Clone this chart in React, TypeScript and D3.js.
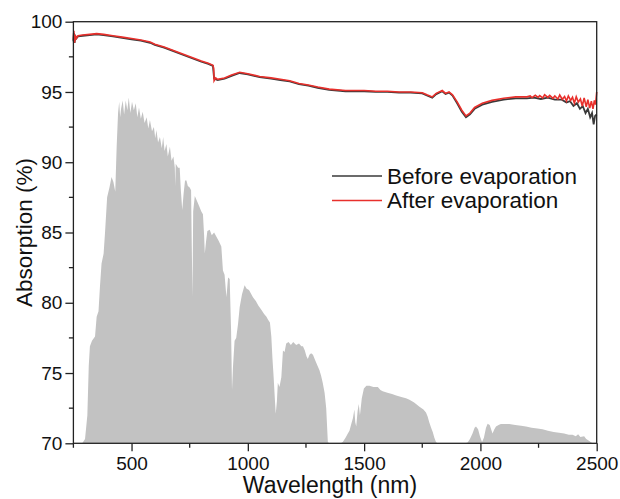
import React, { useEffect, useRef } from 'react';
import * as d3 from 'd3';

// solar spectrum (scaled onto the absorption axis), [wavelength, value]
const solarSpectrum: [number, number][] = [
  [288, 70], [300, 70.3], [310, 72], [316, 75.5], [321, 76.9], [330, 77.3], [343, 77.6], [350, 79.0],
  [358, 79.4], [364, 81.1], [371, 82.8], [380, 83.5], [386, 85], [395, 87.5], [405, 88.2], [414, 88.95],
  [422, 88.6], [430, 87.9], [436, 91.1], [442, 93.5], [447, 94.3], [451, 93.2], [455, 93.8], [462, 94.4],
  [468, 93.4], [475, 94.4], [482, 93.7], [488, 94.6], [495, 93.5], [502, 94.3], [510, 93.7], [518, 94.2],
  [525, 93.2], [532, 93.9], [540, 93.1], [548, 93.6], [556, 92.8], [565, 93.2], [572, 92.4], [579, 93.0],
  [588, 92.2], [596, 92.5], [602, 91.7], [607, 92.3], [614, 91.4], [622, 91.8], [630, 91.0], [636, 91.8],
  [642, 90.8], [650, 91.3], [656, 90.4], [665, 91.1], [672, 90.1], [680, 90.4], [686, 89.6], [688, 88.3],
  [690, 89.9], [700, 89.6], [707, 89.6], [712, 88.0], [718, 86.6], [724, 87.8], [730, 88.7], [736, 88.7],
  [742, 88.3], [750, 88.2], [756, 88.0], [759, 84], [762, 80.4], [765, 86.5], [772, 87.6], [780, 87.3],
  [790, 86.9], [800, 86.5], [807, 86.3], [812, 84.8], [815, 83.5], [820, 84.3], [826, 85.1], [836, 85.2],
  [845, 84.8], [855, 85.0], [865, 84.7], [875, 84.4], [886, 84.0], [893, 82.3], [900, 82.0], [908, 80.4],
  [915, 81.8], [922, 81.7], [928, 78], [932, 73.8], [936, 75.4], [943, 77.3], [950, 77.5], [958, 78.5],
  [965, 79.7], [975, 80.6], [986, 81.25], [995, 81.0], [1005, 80.9], [1015, 80.6], [1022, 80.4], [1035, 80.1],
  [1045, 79.8], [1058, 79.5], [1070, 79.2], [1080, 79.0], [1087, 78.8], [1095, 78.6], [1101, 77.6], [1106, 76.0],
  [1111, 74.7], [1116, 73.2], [1120, 72.1], [1125, 73.0], [1129, 74.3], [1136, 74.0], [1144, 74.7], [1151, 76.6],
  [1158, 76.5], [1165, 77.1], [1175, 77.2], [1185, 77.0], [1195, 77.2], [1208, 77.0], [1220, 77.1], [1230, 76.9],
  [1237, 76.9], [1245, 76.6], [1252, 76.2], [1258, 76.0], [1265, 76.3], [1272, 76.4], [1280, 76.3], [1290, 75.9],
  [1300, 75.5], [1308, 75.2], [1315, 74.8], [1322, 74.3], [1330, 73.6], [1337, 72.5], [1344, 70.1], [1350, 70],
  [1400, 70], [1408, 70.1], [1420, 70.4], [1430, 70.7], [1437, 70.9], [1445, 71.4], [1452, 71.8], [1458, 72.4],
  [1462, 71.5], [1466, 71.2], [1472, 72.3], [1477, 72.8], [1482, 72.0], [1490, 73.2], [1499, 73.9], [1510, 74.1],
  [1523, 74.1], [1540, 74.0], [1559, 74.0], [1570, 73.8], [1580, 73.7], [1600, 73.6], [1620, 73.5], [1638, 73.4],
  [1660, 73.3], [1680, 73.2], [1695, 73.1], [1715, 72.9], [1738, 72.6], [1755, 72.4], [1766, 72.2], [1773, 71.9],
  [1780, 71.5], [1788, 71.1], [1795, 70.8], [1802, 70.4], [1809, 70.1], [1815, 70],
  [1935, 70], [1945, 70.05], [1955, 70.3], [1966, 70.7], [1975, 71.1], [1981, 71.2], [1990, 71.0], [1998, 70.5],
  [2007, 70.1], [2015, 70.4], [2024, 71.1], [2031, 71.4], [2040, 71.3], [2046, 71.0], [2052, 70.7], [2060, 71.0],
  [2067, 71.2], [2078, 71.3], [2088, 71.37], [2105, 71.38], [2124, 71.37], [2150, 71.3], [2175, 71.25], [2196, 71.2],
  [2220, 71.1], [2245, 71.05], [2267, 71.0], [2290, 70.9], [2315, 70.8], [2338, 70.75], [2360, 70.7], [2380, 70.6],
  [2396, 70.6], [2410, 70.5], [2420, 70.65], [2430, 70.45], [2446, 70.5], [2455, 70.3], [2465, 70.2], [2474, 70.1],
  [2482, 70]
];

// absorption before evaporation
const beforeEvaporation: [number, number][] = [
  [250, 98.6], [252, 99.2], [255, 98.5], [258, 98.95], [262, 98.8], [270, 98.95], [290, 99.0], [320, 99.05],
  [350, 99.1], [380, 99.05], [420, 98.95], [460, 98.85], [500, 98.75], [540, 98.65], [580, 98.5], [600, 98.35],
  [640, 98.15], [680, 97.9], [720, 97.65], [760, 97.4], [800, 97.15], [830, 97.0], [850, 96.85], [855, 95.95],
  [870, 95.85], [900, 95.95], [930, 96.15], [965, 96.35], [1000, 96.25], [1051, 96.05], [1100, 95.95], [1140, 95.85],
  [1180, 95.75], [1220, 95.55], [1260, 95.45], [1300, 95.3], [1350, 95.15], [1420, 95.05], [1500, 95.05], [1550, 95.0],
  [1600, 95.0], [1650, 94.95], [1700, 94.95], [1750, 94.9], [1770, 94.75], [1793, 94.6], [1810, 94.85], [1836, 95.05],
  [1850, 94.85], [1865, 94.95], [1880, 94.75], [1900, 94.2], [1920, 93.6], [1938, 93.2], [1955, 93.4], [1975, 93.8],
  [2008, 94.1], [2050, 94.3], [2100, 94.45], [2152, 94.55], [2200, 94.55], [2230, 94.6], [2260, 94.5], [2290, 94.6],
  [2320, 94.45], [2350, 94.45], [2370, 94.25], [2385, 94.35], [2400, 94.0], [2415, 94.2], [2428, 93.8], [2440, 94.0],
  [2452, 93.5], [2462, 93.8], [2472, 93.2], [2480, 93.5], [2487, 92.7], [2493, 93.3], [2500, 93.4]
];

// absorption after evaporation
const afterEvaporation: [number, number][] = [
  [250, 98.7], [252, 99.35], [255, 98.5], [258, 99.05], [262, 98.8], [270, 99.0], [290, 99.05], [320, 99.1],
  [350, 99.15], [380, 99.1], [420, 99.0], [460, 98.9], [500, 98.8], [540, 98.7], [580, 98.55], [600, 98.4],
  [640, 98.2], [680, 97.95], [720, 97.7], [760, 97.45], [800, 97.2], [830, 97.05], [850, 96.9], [853, 96.7],
  [855, 95.8], [862, 96.0], [870, 95.9], [900, 96.0], [930, 96.2], [965, 96.4], [1000, 96.3], [1051, 96.1],
  [1100, 96.0], [1140, 95.9], [1180, 95.8], [1220, 95.6], [1260, 95.5], [1300, 95.35], [1350, 95.2], [1420, 95.1],
  [1500, 95.1], [1550, 95.05], [1600, 95.05], [1650, 95.0], [1700, 95.0], [1750, 94.95], [1770, 94.8], [1793, 94.65],
  [1810, 94.9], [1836, 95.1], [1850, 94.9], [1865, 95.0], [1880, 94.8], [1900, 94.3], [1920, 93.7], [1938, 93.3],
  [1955, 93.5], [1975, 93.9], [2008, 94.2], [2050, 94.4], [2100, 94.55], [2152, 94.65], [2200, 94.65], [2214, 94.72],
  [2222, 94.6], [2236, 94.76], [2248, 94.62], [2255, 94.74], [2268, 94.58], [2276, 94.8], [2290, 94.62], [2298, 94.76],
  [2312, 94.55], [2320, 94.72], [2333, 94.5], [2341, 94.78], [2352, 94.48], [2362, 94.68], [2370, 94.36], [2378, 94.72],
  [2388, 94.4], [2396, 94.62], [2404, 94.2], [2412, 94.66], [2421, 94.28], [2430, 94.5], [2438, 94.0], [2446, 94.58],
  [2455, 93.95], [2462, 94.45], [2470, 93.85], [2477, 94.35], [2484, 93.8], [2490, 94.4], [2495, 94.1], [2500, 95.0]
];

const xTicks = [500, 1000, 1500, 2000, 2500];
const xMinorTicks = [250, 750, 1250, 1750, 2250];
const yTicks = [70, 75, 80, 85, 90, 95, 100];
const yMinorTicks = [72.5, 77.5, 82.5, 87.5, 92.5, 97.5];
const legendLabels = ['Before evaporation', 'After evaporation'];

const App = () => {
  const ref = useRef<SVGSVGElement>(null);

  useEffect(() => {
    const svg = d3.select(ref.current);
    svg.selectAll('*').remove();

    const left = 73.4, right = 596.7, top = 21.7, bottom = 443.3;
    const font = "'Liberation Sans', Arial, sans-serif";

    const x = d3.scaleLinear().domain([250, 2500]).range([left, right]);
    const y = d3.scaleLinear().domain([70, 100]).range([bottom, top]);

    const g = svg.append('g');

    // solar spectrum
    const area = d3.area<[number, number]>()
      .x(d => x(d[0]))
      .y0(y(70))
      .y1(d => y(d[1]));
    g.append('path')
      .datum(solarSpectrum)
      .attr('d', area)
      .attr('fill', '#c2c2c2');

    // absorption lines
    const line = d3.line<[number, number]>()
      .x(d => x(d[0]))
      .y(d => y(d[1]));
    g.append('path')
      .datum(beforeEvaporation)
      .attr('d', line)
      .attr('fill', 'none')
      .attr('stroke', '#3a3a3a')
      .attr('stroke-width', 1.8);
    g.append('path')
      .datum(afterEvaporation)
      .attr('d', line)
      .attr('fill', 'none')
      .attr('stroke', '#e8302c')
      .attr('stroke-width', 1.6);

    // frame
    g.append('rect')
      .attr('x', left).attr('y', top)
      .attr('width', right - left).attr('height', bottom - top)
      .attr('fill', 'none')
      .attr('stroke', '#222')
      .attr('stroke-width', 1.3);

    // x axis
    const xAxis = g.append('g').attr('transform', `translate(0, ${bottom})`);
    xAxis.call(d3.axisBottom(x).tickValues(xTicks).tickFormat(d3.format('d')).tickSize(8).tickPadding(5))
      .call(a => a.select('.domain').remove());
    xAxis.selectAll('line').attr('stroke', '#222').attr('stroke-width', 1.3);
    xAxis.selectAll('text').attr('font-size', 19).attr('font-family', font).attr('fill', '#111');
    xAxis.selectAll('.minor')
      .data(xMinorTicks).enter().append('line')
      .attr('x1', d => x(d)).attr('x2', d => x(d))
      .attr('y1', 0).attr('y2', 4.5)
      .attr('stroke', '#222').attr('stroke-width', 1.3);

    // y axis
    const yAxis = g.append('g').attr('transform', `translate(${left}, 0)`);
    yAxis.call(d3.axisLeft(y).tickValues(yTicks).tickSize(8).tickPadding(3))
      .call(a => a.select('.domain').remove());
    yAxis.selectAll('line').attr('stroke', '#222').attr('stroke-width', 1.3);
    yAxis.selectAll('text').attr('font-size', 19).attr('font-family', font).attr('fill', '#111');
    yAxis.selectAll('.minor')
      .data(yMinorTicks).enter().append('line')
      .attr('x1', 0).attr('x2', -4.5)
      .attr('y1', d => y(d)).attr('y2', d => y(d))
      .attr('stroke', '#222').attr('stroke-width', 1.3);

    // axis titles
    svg.append('text')
      .attr('x', 330)
      .attr('y', 493)
      .attr('text-anchor', 'middle')
      .attr('font-family', font)
      .attr('font-size', 23)
      .attr('fill', '#111')
      .text('Wavelength (nm)');
    svg.append('text')
      .attr('transform', `translate(32, ${(top + bottom) / 2}) rotate(-90)`)
      .attr('text-anchor', 'middle')
      .attr('font-family', font)
      .attr('font-size', 22.5)
      .attr('fill', '#111')
      .text('Absorption (%)');

    // legend
    const colors = ['#3a3a3a', '#e8302c'];
    legendLabels.forEach((label, i) => {
      const ly = 176 + i * 24.5;
      svg.append('line')
        .attr('x1', 332).attr('x2', 382)
        .attr('y1', ly).attr('y2', ly)
        .attr('stroke', colors[i])
        .attr('stroke-width', 1.5);
      svg.append('text')
        .attr('x', 387)
        .attr('y', ly + 7.5)
        .attr('font-family', font)
        .attr('font-size', 22.5)
        .attr('fill', '#111')
        .text(label);
    });
  }, []);

  return (
    <svg
      ref={ref}
      width={620}
      height={499}
      style={{ position: 'absolute', left: 0, top: 0, background: '#fff' }}
    />
  );
};

export default App;
